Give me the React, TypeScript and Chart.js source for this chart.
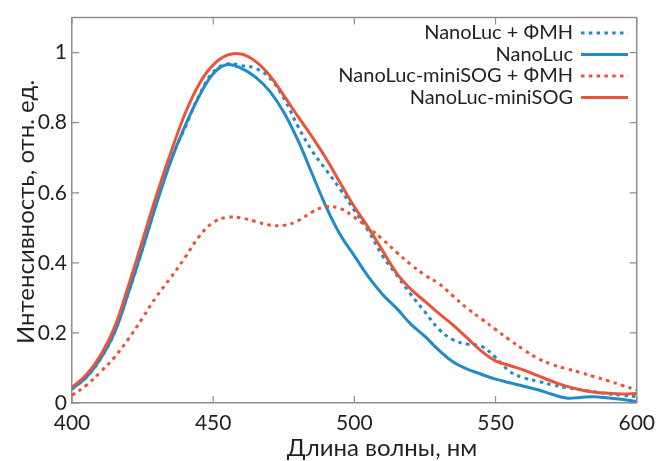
import React, { useEffect, useRef } from 'react';
import { Chart, registerables } from 'chart.js';

Chart.register(...registerables);

const wavelengths = [
  400, 405, 410, 415, 420, 425, 430, 435, 440, 445, 450, 455, 460, 465, 470, 475, 480, 485, 490, 495, 500,
  505, 510, 515, 520, 525, 530, 535, 540, 545, 550, 555, 560, 565, 570, 575, 580, 585, 590, 595, 600,
];

const nanoLucFMN = [
  0.04, 0.073, 0.125, 0.2, 0.315, 0.44, 0.575, 0.695, 0.785, 0.878, 0.945, 0.968, 0.963, 0.955, 0.928, 0.87, 0.79, 0.72, 0.665, 0.61, 0.55,
  0.49, 0.42, 0.365, 0.31, 0.26, 0.21, 0.18, 0.168, 0.162, 0.13, 0.09, 0.072, 0.062, 0.052, 0.044, 0.038, 0.032, 0.026, 0.022, 0.018,
];

const nanoLuc = [
  0.04, 0.073, 0.125, 0.2, 0.315, 0.44, 0.57, 0.69, 0.79, 0.875, 0.94, 0.966, 0.955, 0.93, 0.89, 0.83, 0.75, 0.655, 0.56, 0.48, 0.42,
  0.36, 0.31, 0.27, 0.225, 0.19, 0.15, 0.117, 0.097, 0.082, 0.068, 0.058, 0.048, 0.038, 0.025, 0.014, 0.016, 0.018, 0.014, 0.01, 0.004,
];

const miniSOGFMN = [
  0.022, 0.05, 0.088, 0.13, 0.183, 0.243, 0.305, 0.358, 0.415, 0.475, 0.515, 0.53, 0.528, 0.518, 0.508, 0.507, 0.52, 0.545, 0.56, 0.555, 0.53,
  0.5, 0.467, 0.43, 0.395, 0.365, 0.34, 0.305, 0.27, 0.24, 0.21, 0.18, 0.152, 0.127, 0.11, 0.098, 0.087, 0.075, 0.063, 0.05, 0.037,
];

const miniSOG = [
  0.045, 0.08, 0.135, 0.215, 0.335, 0.465, 0.595, 0.715, 0.825, 0.91, 0.965, 0.993, 0.996, 0.975, 0.935, 0.878, 0.818, 0.76, 0.698, 0.628, 0.56,
  0.5, 0.435, 0.37, 0.325, 0.29, 0.255, 0.222, 0.185, 0.148, 0.12, 0.107, 0.094, 0.078, 0.062, 0.048, 0.038, 0.031, 0.028, 0.026, 0.027,
];

const seriesLabels = ['NanoLuc + ФМН', 'NanoLuc', 'NanoLuc-miniSOG + ФМН', 'NanoLuc-miniSOG'];
const xTicks = [400, 450, 500, 550, 600];
const yTicks = [0, 0.2, 0.4, 0.6, 0.8, 1];
const xTitle = 'Длина волны, нм';
const yTitle = 'Интенсивность, отн. ед.';

const BLUE = '#1f8bcb';
const RED = '#e8553a';
const AXIS = '#8e8e8e';
const TEXT = '#231f20';
const FONT = 'Lato';
const DOT = [3.5, 4.3];

const framePlugin = {
  id: 'frameAndLegend',
  afterDraw(chart: any) {
    const { ctx, chartArea, scales } = chart;
    const { left, right, top, bottom } = chartArea;
    ctx.save();
    ctx.strokeStyle = AXIS;
    ctx.lineWidth = 1.5;
    ctx.beginPath();
    ctx.moveTo(left, top);
    ctx.lineTo(right, top);
    ctx.lineTo(right, bottom);
    ctx.stroke();
    const L = 7;
    ctx.lineWidth = 1.2;
    ctx.beginPath();
    scales.x.ticks.forEach((t: any) => {
      const px = scales.x.getPixelForValue(t.value);
      ctx.moveTo(px, bottom);
      ctx.lineTo(px, bottom - L);
      ctx.moveTo(px, top);
      ctx.lineTo(px, top + L);
    });
    scales.y.ticks.forEach((t: any) => {
      const py = scales.y.getPixelForValue(t.value);
      ctx.moveTo(left, py);
      ctx.lineTo(left + L, py);
      ctx.moveTo(right, py);
      ctx.lineTo(right - L, py);
    });
    ctx.stroke();

    ctx.fillStyle = TEXT;
    ctx.font = `24px ${FONT}`;
    ctx.textAlign = 'center';
    ctx.textBaseline = 'middle';
    ctx.fillText(xTitle, 382, 448);
    ctx.save();
    ctx.translate(26, 212);
    ctx.rotate(-Math.PI / 2);
    ctx.fillText(yTitle, 0, 0);
    ctx.restore();

    const rowY = [32, 53.5, 75, 96.5];
    ctx.font = `20px ${FONT}`;
    ctx.textAlign = 'right';
    chart.data.datasets.forEach((ds: any, i: number) => {
      const y = rowY[i];
      ctx.fillStyle = TEXT;
      ctx.fillText(ds.label, 573, y + 1);
      ctx.strokeStyle = ds.borderColor;
      ctx.lineWidth = ds.borderWidth;
      ctx.setLineDash(ds.borderDash || []);
      ctx.beginPath();
      ctx.moveTo(581, y + 1);
      ctx.lineTo(628, y + 1);
      ctx.stroke();
      ctx.setLineDash([]);
    });
    ctx.restore();
  },
};

export default function App() {
  const ref = useRef<HTMLCanvasElement | null>(null);

  useEffect(() => {
    if (!ref.current) return;
    const mk = (vals: number[]) => wavelengths.map((x, i) => ({ x, y: vals[i] }));
    const chart = new Chart(ref.current, {
      type: 'line',
      data: {
        datasets: [
          { label: seriesLabels[0], data: mk(nanoLucFMN), borderColor: BLUE, borderWidth: 3, borderDash: DOT, order: 3 },
          { label: seriesLabels[1], data: mk(nanoLuc), borderColor: BLUE, borderWidth: 3, order: 2 },
          { label: seriesLabels[2], data: mk(miniSOGFMN), borderColor: RED, borderWidth: 3, borderDash: DOT, order: 1 },
          { label: seriesLabels[3], data: mk(miniSOG), borderColor: RED, borderWidth: 3, order: 0 },
        ] as any,
      },
      options: {
        animation: false,
        responsive: false,
        devicePixelRatio: 1,
        layout: { padding: { top: 14, right: 17, left: 0, bottom: 0 } },
        elements: {
          point: { radius: 0 },
          line: { tension: 0.4, fill: false, capBezierPoints: true },
        },
        plugins: { legend: { display: false }, tooltip: { enabled: false } },
        scales: {
          x: {
            type: 'linear',
            min: 400,
            max: 600,
            afterBuildTicks: (s: any) => {
              s.ticks = xTicks.map((v) => ({ value: v }));
            },
            afterFit: (s: any) => {
              s.height = 58;
            },
            ticks: {
              font: { family: FONT, size: 21 },
              color: TEXT,
              padding: 8,
              maxRotation: 0,
              callback: (v: any) => String(v),
            },
            grid: { display: false, drawTicks: false },
            border: { display: true, color: AXIS, width: 1.5 },
          },
          y: {
            type: 'linear',
            min: 0,
            max: 1.1,
            afterBuildTicks: (s: any) => {
              s.ticks = yTicks.map((v) => ({ value: v }));
            },
            afterFit: (s: any) => {
              s.width = 72;
            },
            ticks: {
              font: { family: FONT, size: 21 },
              color: TEXT,
              padding: 5,
              callback: (v: any) => String(v),
            },
            grid: { display: false, drawTicks: false },
            border: { display: true, color: AXIS, width: 1.5 },
          },
        },
      } as any,
      plugins: [framePlugin],
    });
    return () => chart.destroy();
  }, []);

  return (
    <canvas
      ref={ref}
      width={663}
      height={461}
      style={{ position: 'fixed', left: 0, top: 0, width: 663, height: 461, background: '#fff' }}
    />
  );
}
